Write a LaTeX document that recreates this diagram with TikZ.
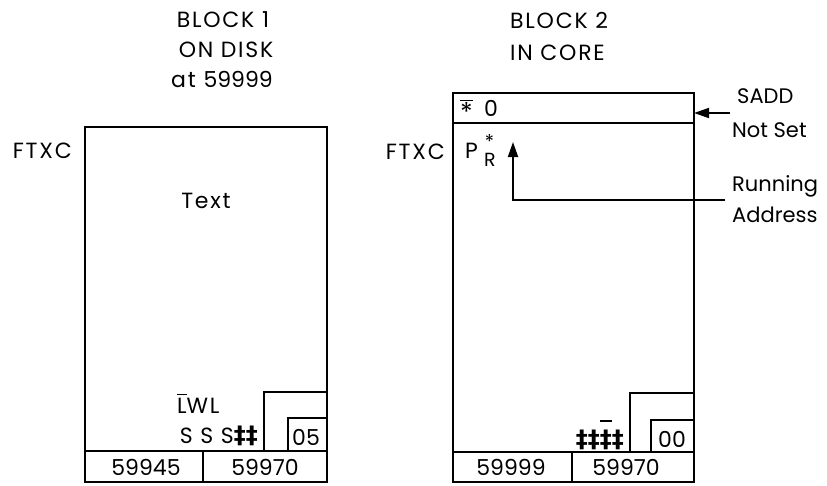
\documentclass[tikz,border=0pt]{standalone}
\usepackage{fontspec}
\setmainfont{Poppins}[LetterSpace=8]
\newfontfamily\numfont{Poppins}
\newfontfamily\markfont{DejaVu Sans Bold}
\usetikzlibrary{arrows.meta}
\newcommand\barover[2][2.5pt]{\leavevmode\vbox{\hrule height 1.5pt\kern #1\hbox{#2}}}
\newcommand\recmark{{\markfont\fontsize{24}{24}\selectfont ‡}}

\begin{document}
\begin{tikzpicture} [x=1pt,y=-1pt,
  every node/.style={font=\fontsize{22}{24}\selectfont, inner sep=0pt},
  num/.style={font=\numfont\fontsize{22}{24}\selectfont},
  side/.style={font=\numfont\fontsize{21}{24}\selectfont, anchor=base west},
  box/.style={line width=2.2pt},
  rule/.style={line width=1.8pt},
  pointer/.style={line width=1.8pt, -{Triangle[length=15pt,width=10pt]}}]

\useasboundingbox (0,0) rectangle (827,485);

% block 1, on disk
\node [anchor=base] (oneA) at (223,27) {BLOCK 1};
\node [anchor=base] (oneB) at (226,57) {ON DISK};
\node [anchor=base] (oneC) at (222,87) {at {\numfont 59999}};

\draw [box] (85,127) rectangle (327,482);
\draw [rule] (85,451) -- (327,451);
\draw [rule] (203,451) -- (203,482);
\draw [rule] (264,451) -- (264,392) -- (327,392);
\draw [rule] (288,451) -- (288,418) -- (327,418);

\node [anchor=base east] (oneftxc) at (72,158) {FTXC};
\node [anchor=base] (onetext) at (206,208) {Text};
\node [anchor=base west] (onelwl) at (177,413) {\barover{L}WL};
\node [anchor=base east] (onesss) at (258,443) {S S S\recmark\recmark};
\node [num, anchor=base] (onetag) at (306,445) {05};
\node [num, anchor=base] (oneaddrA) at (146,475) {59945};
\node [num, anchor=base] (oneaddrB) at (265,475) {59970};

% block 2, in core
\node [anchor=base west] (twoA) at (510,28) {BLOCK 2};
\node [anchor=base west] (twoB) at (510,60) {IN CORE};

\draw [box] (453,93) rectangle (694,482);
\draw [rule] (453,123) -- (694,123);
\draw [rule] (453,452) -- (694,452);
\draw [rule] (572,452) -- (572,482);
\draw [rule] (630,452) -- (630,393) -- (694,393);
\draw [rule] (651,452) -- (651,420) -- (694,420);

\node [anchor=base west] (twostar) at (460,115) {\barover[0.5pt]{\raisebox{-6pt}{\fontsize{26}{26}\selectfont*}}};
\node [num, anchor=base west] (twozero) at (484,116) {0};
\node [anchor=base east] (twoftxc) at (445,159) {FTXC};
\node [anchor=base west] (twop) at (465,158) {P};
\node [anchor=base west] (twor) at (484,166) {\fontsize{19}{19}\selectfont R};
\node [anchor=base] (tworstar) at (489.5,148) {\fontsize{19}{19}\selectfont *};
\node [anchor=base east] (twomarks) at (624,447) {\recmark\recmark\barover[8pt]{\recmark}\recmark};
\node [num, anchor=base] (twotag) at (672,447) {00};
\node [num, anchor=base] (twoaddrA) at (511,475) {59999};
\node [num, anchor=base] (twoaddrB) at (626,475) {59970};

% pointers
\node [side] (saddA) at (737,103) {SADD};
\node [side] (saddB) at (732,137) {Not Set};
\node [side] (runA) at (732,191) {Running};
\node [side] (runB) at (732,222) {Address};

\coordinate (saddtail) at (730,113);
\coordinate (saddtip) at (694,113);
\draw [pointer] (saddtail) -- (saddtip);

\coordinate (runtail) at (725,200);
\coordinate (runtip) at (513,142);
\draw [pointer] (runtail) -| (runtip);

\end{tikzpicture}
\end{document}
